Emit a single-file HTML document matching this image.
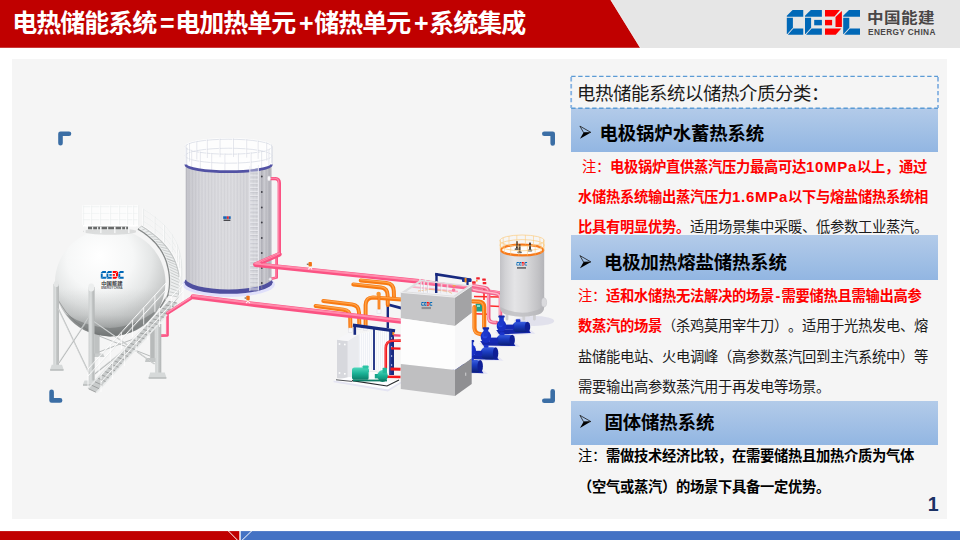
<!DOCTYPE html>
<html lang="zh-CN">
<head>
<meta charset="utf-8">
<title>电热储能系统</title>
<style>
html,body{margin:0;padding:0;}
body{text-spacing-trim:space-all;width:960px;height:540px;position:relative;overflow:hidden;background:#fff;font-family:"Liberation Sans","Noto Sans CJK SC",sans-serif;}
.abs{position:absolute;}
#hdr{left:0;top:0;width:960px;height:47.8px;background:#e6e6e6;}
#title{left:12.2px;top:5.3px;height:36px;line-height:36px;font-size:25px;letter-spacing:-1px;font-weight:bold;color:#fff;white-space:nowrap;}
#title i{display:inline-block;width:19px;text-align:center;font-style:normal;font-weight:bold;font-size:25px;letter-spacing:0;position:relative;left:1.5px;}
#panel{left:12.2px;top:58.9px;width:934.8px;height:460.6px;background:#f5f5f5;}
.bar{left:571px;width:367px;background:linear-gradient(#b3cbe9,#92b6e2);}
.h{font-size:18.4px;letter-spacing:-0.1px;font-weight:bold;color:#000;white-space:nowrap;line-height:24px;height:24px;}
.l{font-size:15px;letter-spacing:.72px;}
.t{font-size:14.3px;letter-spacing:-0.3px;color:#1a1a1a;white-space:nowrap;line-height:20px;height:20px;left:578px;}
.r{color:#ff0000;}
.b{font-weight:bold;}
.k{color:#000;}
</style>
</head>
<body>
<div id="hdr" class="abs"></div>
<svg class="abs" style="left:0;top:0" width="960" height="48" viewBox="0 0 960 48"><polygon points="0,0 610.6,0 640.1,47.8 0,47.8" fill="#c00000"/><line x1="610.9" y1="0" x2="640.4" y2="47.8" stroke="#f4f4f4" stroke-width="0.7"/></svg>
<div id="title" class="abs">电热储能系统<i>=</i>电加热单元<i>+</i>储热单元<i>+</i>系统集成</div>

<div id="panel" class="abs"></div>

<!--ILLUS--><svg class="abs" style="left:0;top:0" width="960" height="540" viewBox="0 0 960 540">
<defs>
<linearGradient id="gTall" x1="0" x2="1" y1="0" y2="0">
<stop offset="0" stop-color="#b8b8c0"/><stop offset="0.04" stop-color="#c8c8ce"/><stop offset="0.2" stop-color="#d6d6db"/><stop offset="0.5" stop-color="#dbdbdf"/><stop offset="0.78" stop-color="#d3d3d8"/><stop offset="0.92" stop-color="#c5c5cb"/><stop offset="1" stop-color="#b0b0b8"/>
</linearGradient>
<pattern id="pStripe" width="3.2" height="10" patternUnits="userSpaceOnUse"><rect x="0" y="0" width="1" height="10" fill="#8c8c98" opacity="0.1"/><rect x="1.6" y="0" width="0.8" height="10" fill="#ffffff" opacity="0.1"/></pattern>
<radialGradient id="gSph" cx="0.42" cy="0.3" r="0.75" fx="0.4" fy="0.25">
<stop offset="0" stop-color="#ffffff"/><stop offset="0.4" stop-color="#f6f7f7"/><stop offset="0.62" stop-color="#e4e6e6"/><stop offset="0.8" stop-color="#cbcdcd"/><stop offset="0.93" stop-color="#adb0b0"/><stop offset="1" stop-color="#989b9b"/>
</radialGradient>
<linearGradient id="gSm" x1="0" x2="1" y1="0" y2="0">
<stop offset="0" stop-color="#c2c2c6"/><stop offset="0.12" stop-color="#d2d2d5"/><stop offset="0.33" stop-color="#e4e4e6"/><stop offset="0.6" stop-color="#d8d8da"/><stop offset="0.85" stop-color="#c3c3c6"/><stop offset="1" stop-color="#b4b4b8"/>
</linearGradient>
<linearGradient id="gSphV" x1="0" x2="0" y1="0" y2="1"><stop offset="0" stop-color="#6a6e6e" stop-opacity="0"/><stop offset="0.55" stop-color="#6a6e6e" stop-opacity="0"/><stop offset="0.8" stop-color="#6a6e6e" stop-opacity="0.16"/><stop offset="0.93" stop-color="#5a5e5e" stop-opacity="0.38"/><stop offset="1" stop-color="#4a4e4e" stop-opacity="0.55"/></linearGradient>
<linearGradient id="gLeg" x1="0" x2="1" y1="0" y2="0"><stop offset="0" stop-color="#cdd0d0"/><stop offset="0.45" stop-color="#dcdfdf"/><stop offset="0.55" stop-color="#c6c9c9"/><stop offset="1" stop-color="#b2b5b5"/></linearGradient>
<linearGradient id="gBlueCyl" x1="0" x2="0" y1="0" y2="1"><stop offset="0" stop-color="#3a5fe0"/><stop offset="0.4" stop-color="#1b3cc0"/><stop offset="1" stop-color="#0b1f7a"/></linearGradient>
<linearGradient id="gTeal" x1="0" x2="0" y1="0" y2="1"><stop offset="0" stop-color="#4fd8bd"/><stop offset="0.5" stop-color="#19b094"/><stop offset="1" stop-color="#0c7d68"/></linearGradient>
</defs>
<g id="tall">
<ellipse cx="228.6" cy="284.4" rx="46.3" ry="12.6" fill="#e0e0fb"/>
<ellipse cx="228.6" cy="282.2" rx="44.1" ry="11.6" fill="#4f4f9f"/>
<path d="M185.7,164.5 L185.7,278.4 A42.9,11.0 0 0 0 271.5,278.4 L271.5,164.5 A42.9,7.2 0 0 1 185.7,164.5 Z" fill="url(#gTall)"/>
<path d="M185.7,164.5 L185.7,278.4 A42.9,11.0 0 0 0 271.5,278.4 L271.5,164.5 A42.9,7.2 0 0 1 185.7,164.5 Z" fill="url(#pStripe)"/>
<ellipse cx="228.6" cy="164.5" rx="42.9" ry="7.2" fill="#fbfbfc"/>
<path d="M185.2,146 A43.4,7.5 0 0 1 272.0,146 L272.0,164.5 A43.4,7.5 0 0 1 185.2,164.5 Z" fill="#ffffff" opacity="0.75"/>
<ellipse cx="228.6" cy="146.0" rx="43.4" ry="7.5" fill="none" stroke="#ffffff" stroke-width="1" opacity="1"/>
<ellipse cx="228.6" cy="146.7" rx="43.4" ry="7.5" fill="none" stroke="#c6cbd8" stroke-width="0.55" opacity="0.95"/>
<ellipse cx="228.6" cy="155.0" rx="43.4" ry="7.5" fill="none" stroke="#ffffff" stroke-width="1" opacity="0.9"/>
<ellipse cx="228.6" cy="155.7" rx="43.4" ry="7.5" fill="none" stroke="#c6cbd8" stroke-width="0.55" opacity="0.95"/>
<line x1="271.8" y1="146.7" x2="271.8" y2="165.2" stroke="#ffffff" stroke-width="0.9"/>
<line x1="272.4" y1="146.7" x2="272.4" y2="165.2" stroke="#c6cbd8" stroke-width="0.45"/>
<line x1="268.3" y1="149.0" x2="268.3" y2="167.5" stroke="#ffffff" stroke-width="0.9"/>
<line x1="268.9" y1="149.0" x2="268.9" y2="167.5" stroke="#c6cbd8" stroke-width="0.45"/>
<line x1="261.0" y1="151.0" x2="261.0" y2="169.5" stroke="#ffffff" stroke-width="0.9"/>
<line x1="261.6" y1="151.0" x2="261.6" y2="169.5" stroke="#c6cbd8" stroke-width="0.45"/>
<line x1="250.5" y1="152.5" x2="250.5" y2="171.0" stroke="#ffffff" stroke-width="0.9"/>
<line x1="251.1" y1="152.5" x2="251.1" y2="171.0" stroke="#c6cbd8" stroke-width="0.45"/>
<line x1="237.8" y1="153.3" x2="237.8" y2="171.8" stroke="#ffffff" stroke-width="0.9"/>
<line x1="238.4" y1="153.3" x2="238.4" y2="171.8" stroke="#c6cbd8" stroke-width="0.45"/>
<line x1="224.3" y1="153.5" x2="224.3" y2="172.0" stroke="#ffffff" stroke-width="0.9"/>
<line x1="224.9" y1="153.5" x2="224.9" y2="172.0" stroke="#c6cbd8" stroke-width="0.45"/>
<line x1="211.1" y1="152.9" x2="211.1" y2="171.4" stroke="#ffffff" stroke-width="0.9"/>
<line x1="211.7" y1="152.9" x2="211.7" y2="171.4" stroke="#c6cbd8" stroke-width="0.45"/>
<line x1="199.7" y1="151.6" x2="199.7" y2="170.1" stroke="#ffffff" stroke-width="0.9"/>
<line x1="200.3" y1="151.6" x2="200.3" y2="170.1" stroke="#c6cbd8" stroke-width="0.45"/>
<line x1="191.1" y1="149.8" x2="191.1" y2="168.3" stroke="#ffffff" stroke-width="0.9"/>
<line x1="191.7" y1="149.8" x2="191.7" y2="168.3" stroke="#c6cbd8" stroke-width="0.45"/>
<line x1="186.2" y1="147.6" x2="186.2" y2="166.1" stroke="#ffffff" stroke-width="0.9"/>
<line x1="186.8" y1="147.6" x2="186.8" y2="166.1" stroke="#c6cbd8" stroke-width="0.45"/>
<line x1="185.4" y1="145.3" x2="185.4" y2="163.8" stroke="#ffffff" stroke-width="0.9"/>
<line x1="186.0" y1="145.3" x2="186.0" y2="163.8" stroke="#c6cbd8" stroke-width="0.45"/>
<line x1="188.9" y1="143.0" x2="188.9" y2="161.5" stroke="#ffffff" stroke-width="0.9"/>
<line x1="189.5" y1="143.0" x2="189.5" y2="161.5" stroke="#c6cbd8" stroke-width="0.45"/>
<line x1="196.2" y1="141.0" x2="196.2" y2="159.5" stroke="#ffffff" stroke-width="0.9"/>
<line x1="196.8" y1="141.0" x2="196.8" y2="159.5" stroke="#c6cbd8" stroke-width="0.45"/>
<line x1="206.7" y1="139.5" x2="206.7" y2="158.0" stroke="#ffffff" stroke-width="0.9"/>
<line x1="207.3" y1="139.5" x2="207.3" y2="158.0" stroke="#c6cbd8" stroke-width="0.45"/>
<line x1="219.4" y1="138.7" x2="219.4" y2="157.2" stroke="#ffffff" stroke-width="0.9"/>
<line x1="220.0" y1="138.7" x2="220.0" y2="157.2" stroke="#c6cbd8" stroke-width="0.45"/>
<line x1="232.9" y1="138.5" x2="232.9" y2="157.0" stroke="#ffffff" stroke-width="0.9"/>
<line x1="233.5" y1="138.5" x2="233.5" y2="157.0" stroke="#c6cbd8" stroke-width="0.45"/>
<line x1="246.1" y1="139.1" x2="246.1" y2="157.6" stroke="#ffffff" stroke-width="0.9"/>
<line x1="246.7" y1="139.1" x2="246.7" y2="157.6" stroke="#c6cbd8" stroke-width="0.45"/>
<line x1="257.5" y1="140.4" x2="257.5" y2="158.9" stroke="#ffffff" stroke-width="0.9"/>
<line x1="258.1" y1="140.4" x2="258.1" y2="158.9" stroke="#c6cbd8" stroke-width="0.45"/>
<line x1="266.1" y1="142.2" x2="266.1" y2="160.7" stroke="#ffffff" stroke-width="0.9"/>
<line x1="266.7" y1="142.2" x2="266.7" y2="160.7" stroke="#c6cbd8" stroke-width="0.45"/>
<line x1="271.0" y1="144.4" x2="271.0" y2="162.9" stroke="#ffffff" stroke-width="0.9"/>
<line x1="271.6" y1="144.4" x2="271.6" y2="162.9" stroke="#c6cbd8" stroke-width="0.45"/>
<path d="M185.7,164.5 A42.9,7.2 0 0 0 271.5,164.5" fill="none" stroke="#5252a4" stroke-width="2.7"/>
<rect x="249.8" y="168.5" width="8.599999999999966" height="122" fill="#dfe0e6" opacity="0.4"/>
<line x1="249.8" y1="166" x2="249.8" y2="291" stroke="#ececf2" stroke-width="0.9"/>
<line x1="258.4" y1="165" x2="258.4" y2="290.5" stroke="#ececf2" stroke-width="0.9"/>
<line x1="249.8" y1="172.0" x2="258.4" y2="172.0" stroke="#efeff4" stroke-width="0.9" opacity="0.7"/>
<line x1="250.3" y1="173.1" x2="257.9" y2="173.1" stroke="#b4b4be" stroke-width="0.4"/>
<line x1="249.8" y1="175.9" x2="258.4" y2="175.9" stroke="#efeff4" stroke-width="0.9" opacity="0.7"/>
<line x1="250.3" y1="177.0" x2="257.9" y2="177.0" stroke="#b4b4be" stroke-width="0.4"/>
<line x1="249.8" y1="179.8" x2="258.4" y2="179.8" stroke="#efeff4" stroke-width="0.9" opacity="0.7"/>
<line x1="250.3" y1="180.9" x2="257.9" y2="180.9" stroke="#b4b4be" stroke-width="0.4"/>
<line x1="249.8" y1="183.7" x2="258.4" y2="183.7" stroke="#efeff4" stroke-width="0.9" opacity="0.7"/>
<line x1="250.3" y1="184.8" x2="257.9" y2="184.8" stroke="#b4b4be" stroke-width="0.4"/>
<line x1="249.8" y1="187.6" x2="258.4" y2="187.6" stroke="#efeff4" stroke-width="0.9" opacity="0.7"/>
<line x1="250.3" y1="188.7" x2="257.9" y2="188.7" stroke="#b4b4be" stroke-width="0.4"/>
<line x1="249.8" y1="191.5" x2="258.4" y2="191.5" stroke="#efeff4" stroke-width="0.9" opacity="0.7"/>
<line x1="250.3" y1="192.6" x2="257.9" y2="192.6" stroke="#b4b4be" stroke-width="0.4"/>
<line x1="249.8" y1="195.4" x2="258.4" y2="195.4" stroke="#efeff4" stroke-width="0.9" opacity="0.7"/>
<line x1="250.3" y1="196.5" x2="257.9" y2="196.5" stroke="#b4b4be" stroke-width="0.4"/>
<line x1="249.8" y1="199.3" x2="258.4" y2="199.3" stroke="#efeff4" stroke-width="0.9" opacity="0.7"/>
<line x1="250.3" y1="200.4" x2="257.9" y2="200.4" stroke="#b4b4be" stroke-width="0.4"/>
<line x1="249.8" y1="203.2" x2="258.4" y2="203.2" stroke="#efeff4" stroke-width="0.9" opacity="0.7"/>
<line x1="250.3" y1="204.3" x2="257.9" y2="204.3" stroke="#b4b4be" stroke-width="0.4"/>
<line x1="249.8" y1="207.1" x2="258.4" y2="207.1" stroke="#efeff4" stroke-width="0.9" opacity="0.7"/>
<line x1="250.3" y1="208.2" x2="257.9" y2="208.2" stroke="#b4b4be" stroke-width="0.4"/>
<line x1="249.8" y1="211.0" x2="258.4" y2="211.0" stroke="#efeff4" stroke-width="0.9" opacity="0.7"/>
<line x1="250.3" y1="212.1" x2="257.9" y2="212.1" stroke="#b4b4be" stroke-width="0.4"/>
<line x1="249.8" y1="214.9" x2="258.4" y2="214.9" stroke="#efeff4" stroke-width="0.9" opacity="0.7"/>
<line x1="250.3" y1="216.0" x2="257.9" y2="216.0" stroke="#b4b4be" stroke-width="0.4"/>
<line x1="249.8" y1="218.8" x2="258.4" y2="218.8" stroke="#efeff4" stroke-width="0.9" opacity="0.7"/>
<line x1="250.3" y1="219.9" x2="257.9" y2="219.9" stroke="#b4b4be" stroke-width="0.4"/>
<line x1="249.8" y1="222.7" x2="258.4" y2="222.7" stroke="#efeff4" stroke-width="0.9" opacity="0.7"/>
<line x1="250.3" y1="223.8" x2="257.9" y2="223.8" stroke="#b4b4be" stroke-width="0.4"/>
<line x1="249.8" y1="226.6" x2="258.4" y2="226.6" stroke="#efeff4" stroke-width="0.9" opacity="0.7"/>
<line x1="250.3" y1="227.7" x2="257.9" y2="227.7" stroke="#b4b4be" stroke-width="0.4"/>
<line x1="249.8" y1="230.5" x2="258.4" y2="230.5" stroke="#efeff4" stroke-width="0.9" opacity="0.7"/>
<line x1="250.3" y1="231.6" x2="257.9" y2="231.6" stroke="#b4b4be" stroke-width="0.4"/>
<line x1="249.8" y1="234.4" x2="258.4" y2="234.4" stroke="#efeff4" stroke-width="0.9" opacity="0.7"/>
<line x1="250.3" y1="235.5" x2="257.9" y2="235.5" stroke="#b4b4be" stroke-width="0.4"/>
<line x1="249.8" y1="238.3" x2="258.4" y2="238.3" stroke="#efeff4" stroke-width="0.9" opacity="0.7"/>
<line x1="250.3" y1="239.4" x2="257.9" y2="239.4" stroke="#b4b4be" stroke-width="0.4"/>
<line x1="249.8" y1="242.2" x2="258.4" y2="242.2" stroke="#efeff4" stroke-width="0.9" opacity="0.7"/>
<line x1="250.3" y1="243.3" x2="257.9" y2="243.3" stroke="#b4b4be" stroke-width="0.4"/>
<line x1="249.8" y1="246.1" x2="258.4" y2="246.1" stroke="#efeff4" stroke-width="0.9" opacity="0.7"/>
<line x1="250.3" y1="247.2" x2="257.9" y2="247.2" stroke="#b4b4be" stroke-width="0.4"/>
<line x1="249.8" y1="250.0" x2="258.4" y2="250.0" stroke="#efeff4" stroke-width="0.9" opacity="0.7"/>
<line x1="250.3" y1="251.1" x2="257.9" y2="251.1" stroke="#b4b4be" stroke-width="0.4"/>
<line x1="249.8" y1="253.9" x2="258.4" y2="253.9" stroke="#efeff4" stroke-width="0.9" opacity="0.7"/>
<line x1="250.3" y1="255.0" x2="257.9" y2="255.0" stroke="#b4b4be" stroke-width="0.4"/>
<line x1="249.8" y1="257.8" x2="258.4" y2="257.8" stroke="#efeff4" stroke-width="0.9" opacity="0.7"/>
<line x1="250.3" y1="258.9" x2="257.9" y2="258.9" stroke="#b4b4be" stroke-width="0.4"/>
<line x1="249.8" y1="261.7" x2="258.4" y2="261.7" stroke="#efeff4" stroke-width="0.9" opacity="0.7"/>
<line x1="250.3" y1="262.8" x2="257.9" y2="262.8" stroke="#b4b4be" stroke-width="0.4"/>
<line x1="249.8" y1="265.6" x2="258.4" y2="265.6" stroke="#efeff4" stroke-width="0.9" opacity="0.7"/>
<line x1="250.3" y1="266.7" x2="257.9" y2="266.7" stroke="#b4b4be" stroke-width="0.4"/>
<line x1="249.8" y1="269.5" x2="258.4" y2="269.5" stroke="#efeff4" stroke-width="0.9" opacity="0.7"/>
<line x1="250.3" y1="270.6" x2="257.9" y2="270.6" stroke="#b4b4be" stroke-width="0.4"/>
<line x1="249.8" y1="273.4" x2="258.4" y2="273.4" stroke="#efeff4" stroke-width="0.9" opacity="0.7"/>
<line x1="250.3" y1="274.5" x2="257.9" y2="274.5" stroke="#b4b4be" stroke-width="0.4"/>
<line x1="249.8" y1="277.3" x2="258.4" y2="277.3" stroke="#efeff4" stroke-width="0.9" opacity="0.7"/>
<line x1="250.3" y1="278.4" x2="257.9" y2="278.4" stroke="#b4b4be" stroke-width="0.4"/>
<line x1="249.8" y1="281.2" x2="258.4" y2="281.2" stroke="#efeff4" stroke-width="0.9" opacity="0.7"/>
<line x1="250.3" y1="282.3" x2="257.9" y2="282.3" stroke="#b4b4be" stroke-width="0.4"/>
<line x1="249.8" y1="285.1" x2="258.4" y2="285.1" stroke="#efeff4" stroke-width="0.9" opacity="0.7"/>
<line x1="250.3" y1="286.2" x2="257.9" y2="286.2" stroke="#b4b4be" stroke-width="0.4"/>
<line x1="249.8" y1="289.0" x2="258.4" y2="289.0" stroke="#efeff4" stroke-width="0.9" opacity="0.7"/>
<line x1="250.3" y1="290.1" x2="257.9" y2="290.1" stroke="#b4b4be" stroke-width="0.4"/>
<line x1="261.8" y1="170" x2="261.8" y2="289" stroke="#8e8e98" stroke-width="0.8" opacity="0.7"/>
<circle cx="261.8" cy="176.5" r="0.9" fill="#3c3c44"/>
<circle cx="261.8" cy="192" r="0.9" fill="#3c3c44"/>
<circle cx="261.8" cy="207.5" r="0.9" fill="#3c3c44"/>
<circle cx="261.8" cy="222.5" r="0.9" fill="#3c3c44"/>
<circle cx="261.8" cy="238" r="0.9" fill="#3c3c44"/>
<circle cx="261.8" cy="253" r="0.9" fill="#3c3c44"/>
<circle cx="261.8" cy="268" r="0.9" fill="#3c3c44"/>
<circle cx="261.8" cy="283" r="0.9" fill="#3c3c44"/>
<g><rect x="223.2" y="216.3" width="3.6" height="2.6" fill="#1766b4"/><rect x="226.9" y="216.3" width="1.9" height="2.6" fill="#e8242c"/><rect x="228.9" y="216.3" width="1.8" height="2.6" fill="#1766b4"/><rect x="223.6" y="219.6" width="6.8" height="1.3" fill="#3a3a40"/></g>
</g>
<g id="sphere">
<rect x="94.6" y="325" width="5" height="29" fill="#bfc2c2"/>
<polygon points="93,353.5 103,353.5 104.5,357 93,357" fill="#c9cccc"/>
<rect x="150.2" y="322" width="4.6" height="36.5" fill="#b7baba"/>
<polygon points="146,358 156,358 156,362 145,362" fill="#c3c6c6"/>
<line x1="99" y1="336" x2="150" y2="356" stroke="#b9bcbc" stroke-width="1"/>
<line x1="152" y1="332" x2="99" y2="352" stroke="#b9bcbc" stroke-width="1"/>
<ellipse cx="110.2" cy="282.6" rx="55.3" ry="53.8" fill="url(#gSph)"/>
<ellipse cx="110.2" cy="282.6" rx="55.3" ry="53.8" fill="url(#gSphV)"/>
<path d="M66,314 Q80,334 110,336.4 Q142,334 157,310 Q134,327 110,328 Q86,327 66,314 Z" fill="#6f7272" opacity="0.55"/>
<path d="M58,300 Q72,326 100,335" fill="none" stroke="#6f7272" stroke-width="0.8" opacity="0.6"/>
<polyline points="160,335.6 167.4,335.2 167.4,313.4" fill="none" stroke="#fb5283" stroke-width="2.9" stroke-linejoin="round"/>
<polyline points="160,335 166.6,334.6 166.6,313.4" fill="none" stroke="#ff86a8" stroke-width="0.9" stroke-linejoin="round"/>
<rect x="53.3" y="284" width="5.6" height="81.8" fill="url(#gLeg)"/>
<polygon points="51.7,364.8 62.0,364.8 63.5,369.3 63.5,370.8 50.2,370.8 50.2,369.3" fill="#d6d9d9"/>
<rect x="50.2" y="369.0" width="13.3" height="1.8" fill="#bfc2c2"/>
<rect x="88.5" y="287" width="6.1" height="94.4" fill="url(#gLeg)"/>
<polygon points="84.5,380.4 95.5,380.4 97,384.29999999999995 97,385.79999999999995 83,385.79999999999995 83,384.29999999999995" fill="#d6d9d9"/>
<rect x="83" y="383.99999999999994" width="14.0" height="1.8" fill="#bfc2c2"/>
<rect x="155.2" y="324" width="6.1" height="49.4" fill="url(#gLeg)"/>
<polygon points="150.2,372.4 164.8,372.4 166.3,377.29999999999995 166.3,378.79999999999995 148.7,378.79999999999995 148.7,377.29999999999995" fill="#d6d9d9"/>
<rect x="148.7" y="376.99999999999994" width="17.6" height="1.8" fill="#bfc2c2"/>
<ellipse cx="56.3" cy="284" rx="2.6" ry="3" fill="#e4e6e6"/>
<ellipse cx="91.3" cy="287.5" rx="3.1" ry="4" fill="#eceeee"/>
<line x1="58.5" y1="309" x2="89.4" y2="374" stroke="#b6b9b9" stroke-width="1.2"/>
<line x1="58.0" y1="308.6" x2="88.9" y2="373.6" stroke="#e6e8e8" stroke-width="0.5"/>
<line x1="88.5" y1="318.5" x2="58.9" y2="363" stroke="#b6b9b9" stroke-width="1.2"/>
<line x1="88.0" y1="318.1" x2="58.4" y2="362.6" stroke="#e6e8e8" stroke-width="0.5"/>
<line x1="94.6" y1="322" x2="154.5" y2="364" stroke="#b6b9b9" stroke-width="1.2"/>
<line x1="94.1" y1="321.6" x2="154.0" y2="363.6" stroke="#e6e8e8" stroke-width="0.5"/>
<line x1="155" y1="326" x2="94.6" y2="374" stroke="#b6b9b9" stroke-width="1.2"/>
<line x1="154.5" y1="325.6" x2="94.1" y2="373.6" stroke="#e6e8e8" stroke-width="0.5"/>
<ellipse cx="110" cy="231.5" rx="27" ry="3.2" fill="#c9cccc" opacity="0.6"/>
<rect x="83" y="224.6" width="55" height="2" fill="#ffffff"/>
<rect x="88" y="226.6" width="40" height="2.6" fill="#3b3d3d" opacity="0.75"/>
<rect x="84" y="226.6" width="1.6" height="6.5" fill="#f3f4f4"/>
<rect x="100" y="226.6" width="1.6" height="6.5" fill="#f3f4f4"/>
<rect x="114" y="226.6" width="1.6" height="6.5" fill="#f3f4f4"/>
<rect x="128" y="226.6" width="1.6" height="6.5" fill="#f3f4f4"/>
<rect x="136" y="226.6" width="1.6" height="6.5" fill="#f3f4f4"/>
<rect x="92" y="226.6" width="1.2" height="3.4" fill="#e9eaea"/>
<rect x="97" y="226.6" width="1.2" height="3.4" fill="#e9eaea"/>
<rect x="107" y="226.6" width="1.2" height="3.4" fill="#e9eaea"/>
<rect x="121" y="226.6" width="1.2" height="3.4" fill="#e9eaea"/>
<rect x="125" y="226.6" width="1.2" height="3.4" fill="#e9eaea"/>
<rect x="82.5" y="205.5" width="55.5" height="19.5" fill="#ffffff" opacity="0.7"/>
<line x1="82.5" y1="206" x2="138" y2="206" stroke="#ffffff" stroke-width="1"/>
<line x1="82.5" y1="206.7" x2="138" y2="206.7" stroke="#dfe2e4" stroke-width="0.4"/>
<line x1="82.5" y1="212.5" x2="138" y2="212.5" stroke="#ffffff" stroke-width="1"/>
<line x1="82.5" y1="213.2" x2="138" y2="213.2" stroke="#dfe2e4" stroke-width="0.4"/>
<line x1="82.5" y1="219" x2="138" y2="219" stroke="#ffffff" stroke-width="1"/>
<line x1="82.5" y1="219.7" x2="138" y2="219.7" stroke="#dfe2e4" stroke-width="0.4"/>
<line x1="83" y1="205.5" x2="83" y2="225" stroke="#ffffff" stroke-width="1"/>
<line x1="83.6" y1="205.5" x2="83.6" y2="225" stroke="#dfe2e4" stroke-width="0.4"/>
<line x1="91" y1="205.5" x2="91" y2="225" stroke="#ffffff" stroke-width="1"/>
<line x1="91.6" y1="205.5" x2="91.6" y2="225" stroke="#dfe2e4" stroke-width="0.4"/>
<line x1="100" y1="205.5" x2="100" y2="225" stroke="#ffffff" stroke-width="1"/>
<line x1="100.6" y1="205.5" x2="100.6" y2="225" stroke="#dfe2e4" stroke-width="0.4"/>
<line x1="110" y1="205.5" x2="110" y2="225" stroke="#ffffff" stroke-width="1"/>
<line x1="110.6" y1="205.5" x2="110.6" y2="225" stroke="#dfe2e4" stroke-width="0.4"/>
<line x1="119" y1="205.5" x2="119" y2="225" stroke="#ffffff" stroke-width="1"/>
<line x1="119.6" y1="205.5" x2="119.6" y2="225" stroke="#dfe2e4" stroke-width="0.4"/>
<line x1="127" y1="205.5" x2="127" y2="225" stroke="#ffffff" stroke-width="1"/>
<line x1="127.6" y1="205.5" x2="127.6" y2="225" stroke="#dfe2e4" stroke-width="0.4"/>
<line x1="133" y1="205.5" x2="133" y2="225" stroke="#ffffff" stroke-width="1"/>
<line x1="133.6" y1="205.5" x2="133.6" y2="225" stroke="#dfe2e4" stroke-width="0.4"/>
<line x1="138" y1="205.5" x2="138" y2="225" stroke="#ffffff" stroke-width="1"/>
<line x1="138.6" y1="205.5" x2="138.6" y2="225" stroke="#dfe2e4" stroke-width="0.4"/>
<polygon points="138.0,229.0 141.0,230.8 143.8,232.7 146.6,234.8 149.2,237.0 151.7,239.2 154.1,241.6 156.4,244.1 158.4,246.7 160.4,249.4 162.1,252.2 163.6,255.0 165.0,258.0 165.0,258.0 166.0,260.6 166.9,263.2 167.6,266.0 168.3,268.9 168.9,271.9 169.3,275.0 169.6,278.2 169.7,281.4 169.6,284.7 169.3,288.1 168.8,291.5 168.0,295.0 178.0,297.0 178.8,294.2 179.3,291.4 179.7,288.6 179.9,285.7 179.9,282.8 179.8,279.9 179.4,276.9 178.9,274.0 178.3,271.0 177.5,268.0 176.6,265.0 175.5,262.0 175.5,262.0 174.0,258.5 172.2,255.2 170.2,251.9 167.9,248.7 165.4,245.5 162.7,242.5 159.7,239.5 156.5,236.7 153.1,233.9 149.5,231.2 145.7,228.5 141.7,226.0" fill="#eceeee"/>
<line x1="138.0" y1="229.0" x2="141.7" y2="226.0" stroke="#b4b7b7" stroke-width="0.6"/>
<line x1="141.0" y1="230.8" x2="145.7" y2="228.5" stroke="#b4b7b7" stroke-width="0.6"/>
<line x1="143.8" y1="232.7" x2="149.5" y2="231.2" stroke="#b4b7b7" stroke-width="0.6"/>
<line x1="146.6" y1="234.8" x2="153.1" y2="233.9" stroke="#b4b7b7" stroke-width="0.6"/>
<line x1="149.2" y1="237.0" x2="156.5" y2="236.7" stroke="#b4b7b7" stroke-width="0.6"/>
<line x1="151.7" y1="239.2" x2="159.7" y2="239.5" stroke="#b4b7b7" stroke-width="0.6"/>
<line x1="154.1" y1="241.6" x2="162.7" y2="242.5" stroke="#b4b7b7" stroke-width="0.6"/>
<line x1="156.4" y1="244.1" x2="165.4" y2="245.5" stroke="#b4b7b7" stroke-width="0.6"/>
<line x1="158.4" y1="246.7" x2="167.9" y2="248.7" stroke="#b4b7b7" stroke-width="0.6"/>
<line x1="160.4" y1="249.4" x2="170.2" y2="251.9" stroke="#b4b7b7" stroke-width="0.6"/>
<line x1="162.1" y1="252.2" x2="172.2" y2="255.2" stroke="#b4b7b7" stroke-width="0.6"/>
<line x1="163.6" y1="255.0" x2="174.0" y2="258.5" stroke="#b4b7b7" stroke-width="0.6"/>
<line x1="165.0" y1="258.0" x2="175.5" y2="262.0" stroke="#b4b7b7" stroke-width="0.6"/>
<line x1="165.0" y1="258.0" x2="175.5" y2="262.0" stroke="#b4b7b7" stroke-width="0.6"/>
<line x1="166.0" y1="260.6" x2="176.6" y2="265.0" stroke="#b4b7b7" stroke-width="0.6"/>
<line x1="166.9" y1="263.2" x2="177.5" y2="268.0" stroke="#b4b7b7" stroke-width="0.6"/>
<line x1="167.6" y1="266.0" x2="178.3" y2="271.0" stroke="#b4b7b7" stroke-width="0.6"/>
<line x1="168.3" y1="268.9" x2="178.9" y2="274.0" stroke="#b4b7b7" stroke-width="0.6"/>
<line x1="168.9" y1="271.9" x2="179.4" y2="276.9" stroke="#b4b7b7" stroke-width="0.6"/>
<line x1="169.3" y1="275.0" x2="179.8" y2="279.9" stroke="#b4b7b7" stroke-width="0.6"/>
<line x1="169.6" y1="278.2" x2="179.9" y2="282.8" stroke="#b4b7b7" stroke-width="0.6"/>
<line x1="169.7" y1="281.4" x2="179.9" y2="285.7" stroke="#b4b7b7" stroke-width="0.6"/>
<line x1="169.6" y1="284.7" x2="179.7" y2="288.6" stroke="#b4b7b7" stroke-width="0.6"/>
<line x1="169.3" y1="288.1" x2="179.3" y2="291.4" stroke="#b4b7b7" stroke-width="0.6"/>
<line x1="168.8" y1="291.5" x2="178.8" y2="294.2" stroke="#b4b7b7" stroke-width="0.6"/>
<line x1="168.0" y1="295.0" x2="178.0" y2="297.0" stroke="#b4b7b7" stroke-width="0.6"/>
<polyline points="138.0,229.0 141.0,230.8 143.8,232.7 146.6,234.8 149.2,237.0 151.7,239.2 154.1,241.6 156.4,244.1 158.4,246.7 160.4,249.4 162.1,252.2 163.6,255.0 165.0,258.0 165.0,258.0 166.0,260.6 166.9,263.2 167.6,266.0 168.3,268.9 168.9,271.9 169.3,275.0 169.6,278.2 169.7,281.4 169.6,284.7 169.3,288.1 168.8,291.5 168.0,295.0 160,308" fill="none" stroke="#7b7e7e" stroke-width="1.5" opacity="0.9"/>
<polyline points="138.9,228.5 141.9,230.3 144.7,232.2 147.5,234.3 150.1,236.5 152.6,238.7 155.0,241.1 157.3,243.6 159.3,246.2 161.3,248.9 163.0,251.7 164.5,254.5 165.9,257.5 165.9,257.5 166.9,260.1 167.8,262.7 168.5,265.5 169.2,268.4 169.8,271.4 170.2,274.5 170.5,277.7 170.6,280.9 170.5,284.2 170.2,287.6 169.7,291.0 168.9,294.5" fill="none" stroke="#f4f5f5" stroke-width="0.7"/>
<polyline points="141.7,226.0 145.7,228.5 149.5,231.2 153.1,233.9 156.5,236.7 159.7,239.5 162.7,242.5 165.4,245.5 167.9,248.7 170.2,251.9 172.2,255.2 174.0,258.5 175.5,262.0 175.5,262.0 176.6,265.0 177.5,268.0 178.3,271.0 178.9,274.0 179.4,276.9 179.8,279.9 179.9,282.8 179.9,285.7 179.7,288.6 179.3,291.4 178.8,294.2 178.0,297.0 171,306" fill="none" stroke="#c4c7c7" stroke-width="1.4"/>
<polyline points="142.5,225.6 146.5,228.1 150.3,230.8 153.9,233.5 157.3,236.3 160.5,239.1 163.5,242.1 166.2,245.1 168.7,248.3 171.0,251.5 173.0,254.8 174.8,258.1 176.3,261.6 176.3,261.6 177.4,264.6 178.3,267.6 179.1,270.6 179.7,273.6 180.2,276.5 180.6,279.5 180.7,282.4 180.7,285.3 180.5,288.2 180.1,291.0 179.6,293.8 178.8,296.6" fill="none" stroke="#ffffff" stroke-width="0.8"/>
<polyline points="142.9,208.5 146.9,211.0 150.7,213.7 154.3,216.4 157.7,219.2 160.9,222.0 163.8,225.0 166.6,228.0 169.1,231.2 171.4,234.4 173.4,237.7 175.2,241.0 176.7,244.5 176.7,244.5 177.8,247.5 178.7,250.5 179.5,253.5 180.1,256.5 180.6,259.4 180.9,262.4 181.1,265.3 181.1,268.2 180.9,271.1 180.5,273.9 180.0,276.7 179.2,279.5" fill="none" stroke="#ffffff" stroke-width="0.9"/>
<polyline points="143.5,209.1 147.5,211.6 151.3,214.3 154.9,217.0 158.3,219.8 161.5,222.6 164.5,225.6 167.2,228.6 169.7,231.8 172.0,235.0 174.0,238.3 175.8,241.6 177.3,245.1 177.3,245.1 178.4,248.1 179.3,251.1 180.1,254.1 180.7,257.1 181.2,260.0 181.6,263.0 181.7,265.9 181.7,268.8 181.5,271.7 181.1,274.5 180.6,277.3 179.8,280.1" fill="none" stroke="#d5d8da" stroke-width="0.4"/>
<polyline points="142.9,214.5 146.9,217.0 150.7,219.7 154.3,222.4 157.7,225.2 160.9,228.0 163.8,231.0 166.6,234.0 169.1,237.2 171.4,240.4 173.4,243.7 175.2,247.0 176.7,250.5 176.7,250.5 177.8,253.5 178.7,256.5 179.5,259.5 180.1,262.5 180.6,265.4 180.9,268.4 181.1,271.3 181.1,274.2 180.9,277.1 180.5,279.9 180.0,282.7 179.2,285.5" fill="none" stroke="#ffffff" stroke-width="0.9"/>
<polyline points="143.5,215.1 147.5,217.6 151.3,220.3 154.9,223.0 158.3,225.8 161.5,228.6 164.5,231.6 167.2,234.6 169.7,237.8 172.0,241.0 174.0,244.3 175.8,247.6 177.3,251.1 177.3,251.1 178.4,254.1 179.3,257.1 180.1,260.1 180.7,263.1 181.2,266.0 181.6,269.0 181.7,271.9 181.7,274.8 181.5,277.7 181.1,280.5 180.6,283.3 179.8,286.1" fill="none" stroke="#d5d8da" stroke-width="0.4"/>
<polyline points="142.9,220.5 146.9,223.0 150.7,225.7 154.3,228.4 157.7,231.2 160.9,234.0 163.8,237.0 166.6,240.0 169.1,243.2 171.4,246.4 173.4,249.7 175.2,253.0 176.7,256.5 176.7,256.5 177.8,259.5 178.7,262.5 179.5,265.5 180.1,268.5 180.6,271.4 180.9,274.4 181.1,277.3 181.1,280.2 180.9,283.1 180.5,285.9 180.0,288.7 179.2,291.5" fill="none" stroke="#ffffff" stroke-width="0.9"/>
<polyline points="143.5,221.1 147.5,223.6 151.3,226.3 154.9,229.0 158.3,231.8 161.5,234.6 164.5,237.6 167.2,240.6 169.7,243.8 172.0,247.0 174.0,250.3 175.8,253.6 177.3,257.1 177.3,257.1 178.4,260.1 179.3,263.1 180.1,266.1 180.7,269.1 181.2,272.0 181.6,275.0 181.7,277.9 181.7,280.8 181.5,283.7 181.1,286.5 180.6,289.3 179.8,292.1" fill="none" stroke="#d5d8da" stroke-width="0.4"/>
<line x1="142.9" y1="226.0" x2="142.9" y2="208.5" stroke="#ffffff" stroke-width="0.9"/>
<line x1="143.5" y1="226.0" x2="143.5" y2="208.5" stroke="#d5d8da" stroke-width="0.4"/>
<line x1="154.3" y1="233.9" x2="154.3" y2="216.4" stroke="#ffffff" stroke-width="0.9"/>
<line x1="154.9" y1="233.9" x2="154.9" y2="216.4" stroke="#d5d8da" stroke-width="0.4"/>
<line x1="163.8" y1="242.5" x2="163.8" y2="225.0" stroke="#ffffff" stroke-width="0.9"/>
<line x1="164.5" y1="242.5" x2="164.5" y2="225.0" stroke="#d5d8da" stroke-width="0.4"/>
<line x1="171.4" y1="251.9" x2="171.4" y2="234.4" stroke="#ffffff" stroke-width="0.9"/>
<line x1="172.0" y1="251.9" x2="172.0" y2="234.4" stroke="#d5d8da" stroke-width="0.4"/>
<line x1="176.7" y1="262.0" x2="176.7" y2="244.5" stroke="#ffffff" stroke-width="0.9"/>
<line x1="177.3" y1="262.0" x2="177.3" y2="244.5" stroke="#d5d8da" stroke-width="0.4"/>
<line x1="178.7" y1="268.0" x2="178.7" y2="250.5" stroke="#ffffff" stroke-width="0.9"/>
<line x1="179.3" y1="268.0" x2="179.3" y2="250.5" stroke="#d5d8da" stroke-width="0.4"/>
<line x1="180.6" y1="276.9" x2="180.6" y2="259.4" stroke="#ffffff" stroke-width="0.9"/>
<line x1="181.2" y1="276.9" x2="181.2" y2="259.4" stroke="#d5d8da" stroke-width="0.4"/>
<line x1="181.1" y1="285.7" x2="181.1" y2="268.2" stroke="#ffffff" stroke-width="0.9"/>
<line x1="181.7" y1="285.7" x2="181.7" y2="268.2" stroke="#d5d8da" stroke-width="0.4"/>
<line x1="180.0" y1="294.2" x2="180.0" y2="276.7" stroke="#ffffff" stroke-width="0.9"/>
<line x1="180.6" y1="294.2" x2="180.6" y2="276.7" stroke="#d5d8da" stroke-width="0.4"/>
<polygon points="168,301 177.5,303 96.5,392.5 88,388.5" fill="#c9cccc"/>
<line x1="168" y1="301" x2="88" y2="388.5" stroke="#e4e6e6" stroke-width="1.5"/>
<line x1="177.5" y1="303" x2="96.5" y2="392.5" stroke="#e9ebeb" stroke-width="1.7"/>
<line x1="168.6" y1="301.4" x2="176.8" y2="303.0" stroke="#989b9b" stroke-width="0.9"/>
<line x1="165.4" y1="304.9" x2="173.6" y2="306.6" stroke="#989b9b" stroke-width="0.9"/>
<line x1="162.2" y1="308.4" x2="170.3" y2="310.1" stroke="#989b9b" stroke-width="0.9"/>
<line x1="159.0" y1="311.9" x2="167.1" y2="313.7" stroke="#989b9b" stroke-width="0.9"/>
<line x1="155.8" y1="315.4" x2="163.8" y2="317.3" stroke="#989b9b" stroke-width="0.9"/>
<line x1="152.6" y1="318.9" x2="160.6" y2="320.8" stroke="#989b9b" stroke-width="0.9"/>
<line x1="149.4" y1="322.4" x2="157.4" y2="324.4" stroke="#989b9b" stroke-width="0.9"/>
<line x1="146.2" y1="325.9" x2="154.1" y2="328.0" stroke="#989b9b" stroke-width="0.9"/>
<line x1="143.0" y1="329.4" x2="150.9" y2="331.5" stroke="#989b9b" stroke-width="0.9"/>
<line x1="139.8" y1="332.9" x2="147.6" y2="335.1" stroke="#989b9b" stroke-width="0.9"/>
<line x1="136.6" y1="336.4" x2="144.4" y2="338.7" stroke="#989b9b" stroke-width="0.9"/>
<line x1="133.4" y1="339.9" x2="141.2" y2="342.2" stroke="#989b9b" stroke-width="0.9"/>
<line x1="130.2" y1="343.4" x2="137.9" y2="345.8" stroke="#989b9b" stroke-width="0.9"/>
<line x1="127.0" y1="346.8" x2="134.7" y2="349.4" stroke="#989b9b" stroke-width="0.9"/>
<line x1="123.8" y1="350.3" x2="131.4" y2="353.0" stroke="#989b9b" stroke-width="0.9"/>
<line x1="120.6" y1="353.8" x2="128.2" y2="356.5" stroke="#989b9b" stroke-width="0.9"/>
<line x1="117.4" y1="357.3" x2="125.0" y2="360.1" stroke="#989b9b" stroke-width="0.9"/>
<line x1="114.2" y1="360.8" x2="121.7" y2="363.7" stroke="#989b9b" stroke-width="0.9"/>
<line x1="111.0" y1="364.3" x2="118.5" y2="367.2" stroke="#989b9b" stroke-width="0.9"/>
<line x1="107.8" y1="367.8" x2="115.2" y2="370.8" stroke="#989b9b" stroke-width="0.9"/>
<line x1="104.6" y1="371.3" x2="112.0" y2="374.4" stroke="#989b9b" stroke-width="0.9"/>
<line x1="101.4" y1="374.8" x2="108.8" y2="377.9" stroke="#989b9b" stroke-width="0.9"/>
<line x1="98.2" y1="378.3" x2="105.5" y2="381.5" stroke="#989b9b" stroke-width="0.9"/>
<line x1="95.0" y1="381.8" x2="102.3" y2="385.1" stroke="#989b9b" stroke-width="0.9"/>
<line x1="91.8" y1="385.3" x2="99.0" y2="388.6" stroke="#989b9b" stroke-width="0.9"/>
<line x1="88.6" y1="388.8" x2="95.8" y2="392.2" stroke="#989b9b" stroke-width="0.9"/>
<line x1="166" y1="290" x2="88" y2="376" stroke="#ffffff" stroke-width="0.9"/>
<line x1="166.5" y1="290.6" x2="88.5" y2="376.6" stroke="#d9dcdc" stroke-width="0.4"/>
<line x1="183" y1="291" x2="101" y2="382" stroke="#ffffff" stroke-width="0.9"/>
<line x1="183.5" y1="291.6" x2="101.5" y2="382.6" stroke="#d9dcdc" stroke-width="0.4"/>
<line x1="166" y1="283" x2="88" y2="369" stroke="#ffffff" stroke-width="0.9"/>
<line x1="166.5" y1="283.6" x2="88.5" y2="369.6" stroke="#d9dcdc" stroke-width="0.4"/>
<line x1="183" y1="284" x2="101" y2="375" stroke="#ffffff" stroke-width="0.9"/>
<line x1="183.5" y1="284.6" x2="101.5" y2="375.6" stroke="#d9dcdc" stroke-width="0.4"/>
<line x1="166.0" y1="300.0" x2="166.0" y2="283.0" stroke="#ffffff" stroke-width="0.8"/>
<line x1="183.0" y1="301.0" x2="183.0" y2="284.0" stroke="#ffffff" stroke-width="0.8"/>
<line x1="154.9" y1="312.3" x2="154.9" y2="295.3" stroke="#ffffff" stroke-width="0.8"/>
<line x1="171.3" y1="314.0" x2="171.3" y2="297.0" stroke="#ffffff" stroke-width="0.8"/>
<line x1="143.7" y1="324.6" x2="143.7" y2="307.6" stroke="#ffffff" stroke-width="0.8"/>
<line x1="159.6" y1="327.0" x2="159.6" y2="310.0" stroke="#ffffff" stroke-width="0.8"/>
<line x1="132.6" y1="336.9" x2="132.6" y2="319.9" stroke="#ffffff" stroke-width="0.8"/>
<line x1="147.9" y1="340.0" x2="147.9" y2="323.0" stroke="#ffffff" stroke-width="0.8"/>
<line x1="121.4" y1="349.1" x2="121.4" y2="332.1" stroke="#ffffff" stroke-width="0.8"/>
<line x1="136.1" y1="353.0" x2="136.1" y2="336.0" stroke="#ffffff" stroke-width="0.8"/>
<line x1="110.3" y1="361.4" x2="110.3" y2="344.4" stroke="#ffffff" stroke-width="0.8"/>
<line x1="124.4" y1="366.0" x2="124.4" y2="349.0" stroke="#ffffff" stroke-width="0.8"/>
<line x1="99.1" y1="373.7" x2="99.1" y2="356.7" stroke="#ffffff" stroke-width="0.8"/>
<line x1="112.7" y1="379.0" x2="112.7" y2="362.0" stroke="#ffffff" stroke-width="0.8"/>
<line x1="88.0" y1="386.0" x2="88.0" y2="369.0" stroke="#ffffff" stroke-width="0.8"/>
<line x1="101.0" y1="392.0" x2="101.0" y2="375.0" stroke="#ffffff" stroke-width="0.8"/>
<g transform="translate(100.8,271) scale(0.3117) translate(-786.8,-10)"><use href="#logo"/></g>
<text x="101.2" y="285.3" font-family="'Liberation Sans','Noto Sans CJK SC',sans-serif" font-size="5" font-weight="bold" fill="#3a3a3c" textLength="21.4" lengthAdjust="spacingAndGlyphs">中国能建</text>
<text x="101.2" y="288.8" font-family="'Liberation Sans',sans-serif" font-size="2.7" font-weight="bold" fill="#55565a" textLength="21.4" lengthAdjust="spacingAndGlyphs">ENERGY CHINA</text>
</g>
<g id="equip">
<path d="M269.5,178.6 L275.5,178.6 Q279.3,178.8 279.3,183 L279.3,254.3" fill="none" stroke="#fb5283" stroke-width="3.4" stroke-linejoin="round" stroke-linecap="round"/>
<path d="M269.5,178.6 L275.5,178.6 Q279.3,178.8 279.3,183 L279.3,254.3" transform="translate(-0.6,-0.4)" fill="none" stroke="#ff9ab6" stroke-width="1.1" stroke-linejoin="round" stroke-linecap="round" opacity="0.8"/>
<polyline points="270.5,279.0 276.6,277.5 276.6,256.0" fill="none" stroke="#fb5283" stroke-width="2.8" stroke-linejoin="round" stroke-linecap="round"/>
<polyline points="270.0,279.0 276.1,277.5 276.1,256.0" fill="none" stroke="#ffa0b8" stroke-width="0.8" stroke-linejoin="round" stroke-linecap="round" opacity="0.8"/>
<polyline points="279.3,254.3 255.5,264.6 419.0,281.4 500.0,293.5" fill="none" stroke="#fb5283" stroke-width="4.7" stroke-linejoin="round" stroke-linecap="round"/>
<polyline points="279.0,253.3 255.2,263.6 418.7,280.4 499.7,292.5" fill="none" stroke="#ff8cac" stroke-width="1.97" stroke-linejoin="round" stroke-linecap="round"/>
<polyline points="276.6,256.0 262.0,262.3" fill="none" stroke="#fb5283" stroke-width="2.6" stroke-linejoin="round" stroke-linecap="round"/>
<polyline points="276.6,255.3 262.0,261.6" fill="none" stroke="#ffa0b8" stroke-width="0.8" stroke-linejoin="round" stroke-linecap="round" opacity="0.8"/>
<ellipse cx="269" cy="178.4" rx="1.6" ry="2.6" fill="#fafafc" stroke="#c4c4cc" stroke-width="0.4"/>
<circle cx="270.2" cy="279.2" r="1.6" fill="#eeeef2" stroke="#b9b9c2" stroke-width="0.5"/>
<line x1="436.5" y1="274.3" x2="469.5" y2="279.6" stroke="#17297f" stroke-width="2.6" stroke-linecap="square"/>
<line x1="436.5" y1="274.3" x2="436.5" y2="292" stroke="#17297f" stroke-width="2.4" stroke-linecap="square"/>
<line x1="467.5" y1="279.5" x2="467.5" y2="287" stroke="#17297f" stroke-width="2.2" stroke-linecap="square"/>
<line x1="420.0" y1="279.0" x2="420.0" y2="290.0" stroke="#ffffff" stroke-width="1.2"/>
<line x1="420.8" y1="279.0" x2="420.8" y2="290.0" stroke="#c8ccd6" stroke-width="0.4"/>
<line x1="425.5" y1="279.8" x2="425.5" y2="290.9" stroke="#ffffff" stroke-width="1.2"/>
<line x1="426.3" y1="279.8" x2="426.3" y2="290.9" stroke="#c8ccd6" stroke-width="0.4"/>
<line x1="431.0" y1="280.6" x2="431.0" y2="291.8" stroke="#ffffff" stroke-width="1.2"/>
<line x1="431.8" y1="280.6" x2="431.8" y2="291.8" stroke="#c8ccd6" stroke-width="0.4"/>
<line x1="436.5" y1="281.4" x2="436.5" y2="292.7" stroke="#ffffff" stroke-width="1.2"/>
<line x1="437.3" y1="281.4" x2="437.3" y2="292.7" stroke="#c8ccd6" stroke-width="0.4"/>
<line x1="442.0" y1="282.2" x2="442.0" y2="293.6" stroke="#ffffff" stroke-width="1.2"/>
<line x1="442.8" y1="282.2" x2="442.8" y2="293.6" stroke="#c8ccd6" stroke-width="0.4"/>
<line x1="447.5" y1="283.0" x2="447.5" y2="294.5" stroke="#ffffff" stroke-width="1.2"/>
<line x1="448.3" y1="283.0" x2="448.3" y2="294.5" stroke="#c8ccd6" stroke-width="0.4"/>
<line x1="453.0" y1="283.8" x2="453.0" y2="295.4" stroke="#ffffff" stroke-width="1.2"/>
<line x1="453.8" y1="283.8" x2="453.8" y2="295.4" stroke="#c8ccd6" stroke-width="0.4"/>
<line x1="418" y1="283" x2="470" y2="289.5" stroke="#f6a7bb" stroke-width="1.6"/>
<line x1="387.9" y1="304.6" x2="401" y2="308" stroke="#17297f" stroke-width="2.7" stroke-linecap="square"/>
<line x1="387.8" y1="304.6" x2="387.8" y2="327" stroke="#17297f" stroke-width="2.4" stroke-linecap="square"/>
<path d="M360.7,280.4 L386.5,283 Q393.6,283.8 393.8,291 L394,297" fill="none" stroke="#f87a12" stroke-width="4.0" stroke-linejoin="round" stroke-linecap="round"/>
<path d="M360.7,280.4 L386.5,283 Q393.6,283.8 393.8,291 L394,297" transform="translate(-0.0,-0.7)" fill="none" stroke="#ffab55" stroke-width="1.3" stroke-linejoin="round" stroke-linecap="round" opacity="0.8"/>
<path d="M353.3,284.4 L381,287.6 Q387.4,288.4 387.6,295 L387.8,305" fill="none" stroke="#f87a12" stroke-width="4.0" stroke-linejoin="round" stroke-linecap="round"/>
<path d="M353.3,284.4 L381,287.6 Q387.4,288.4 387.6,295 L387.8,305" transform="translate(-0.0,-0.7)" fill="none" stroke="#ffab55" stroke-width="1.3" stroke-linejoin="round" stroke-linecap="round" opacity="0.8"/>
<path d="M365.6,326 L365.6,305 Q365.8,297.6 373,297.4 L401,299.6" fill="none" stroke="#f87a12" stroke-width="4.0" stroke-linejoin="round" stroke-linecap="round"/>
<path d="M365.6,326 L365.6,305 Q365.8,297.6 373,297.4 L401,299.6" transform="translate(-0.0,-0.7)" fill="none" stroke="#ffab55" stroke-width="1.3" stroke-linejoin="round" stroke-linecap="round" opacity="0.8"/>
<path d="M379,309 L379,295" fill="none" stroke="#f87a12" stroke-width="2.8" stroke-linejoin="round" stroke-linecap="round"/>
<path d="M379,309 L379,295" transform="translate(-0.0,-0.7)" fill="none" stroke="#ffab55" stroke-width="0.8" stroke-linejoin="round" stroke-linecap="round" opacity="0.8"/>
<circle cx="378.6" cy="294" r="2.2" fill="#f9942e"/>
<path d="M323.3,301.1 L352,304.6 Q358.8,305.6 359,312.5 L359.3,324.4" fill="none" stroke="#f87a12" stroke-width="4.0" stroke-linejoin="round" stroke-linecap="round"/>
<path d="M323.3,301.1 L352,304.6 Q358.8,305.6 359,312.5 L359.3,324.4" transform="translate(-0.0,-0.7)" fill="none" stroke="#ffab55" stroke-width="1.3" stroke-linejoin="round" stroke-linecap="round" opacity="0.8"/>
<path d="M315.6,306 L343.5,309.7 Q350,310.6 350.2,317 L350.4,328" fill="none" stroke="#f87a12" stroke-width="4.0" stroke-linejoin="round" stroke-linecap="round"/>
<path d="M315.6,306 L343.5,309.7 Q350,310.6 350.2,317 L350.4,328" transform="translate(-0.0,-0.7)" fill="none" stroke="#ffab55" stroke-width="1.3" stroke-linejoin="round" stroke-linecap="round" opacity="0.8"/>
<rect x="348.4" y="328" width="4" height="4.2" fill="#f7f7f9" stroke="#d6d6de" stroke-width="0.4"/>
<rect x="357.3" y="325" width="4" height="4.2" fill="#f7f7f9" stroke="#d6d6de" stroke-width="0.4"/>
<rect x="363.6" y="326.5" width="4" height="4.2" fill="#f7f7f9" stroke="#d6d6de" stroke-width="0.4"/>
<rect x="377" y="309.5" width="4" height="4.2" fill="#f7f7f9" stroke="#d6d6de" stroke-width="0.4"/>
<polyline points="167.6,313.2 193.0,296.9" fill="none" stroke="#fb5283" stroke-width="3.3" stroke-linejoin="round" stroke-linecap="round"/>
<polyline points="167.3,312.5 192.7,296.2" fill="none" stroke="#ff8cac" stroke-width="1.39" stroke-linejoin="round" stroke-linecap="round"/>
<polyline points="193.0,296.7 247.2,303.6 401.0,321.3" fill="none" stroke="#fb5283" stroke-width="5.0" stroke-linejoin="round" stroke-linecap="round"/>
<polyline points="192.7,295.6 246.9,302.5 400.7,320.2" fill="none" stroke="#ff8cac" stroke-width="2.10" stroke-linejoin="round" stroke-linecap="round"/>
<rect x="246.3" y="295.79999999999995" width="3.4" height="4.6" rx="0.8" fill="#f07214"/>
<polygon points="245.6,303.0 247.8,300.2 250.4,303.0 249.2,303.2 248,301.59999999999997 246.8,303.2" fill="#ffffff"/>
<rect x="244.6" y="297.4" width="1.8" height="1.3" fill="#7a6a5a"/>
<rect x="308.5" y="262.0" width="3.4" height="4.6" rx="0.8" fill="#f07214"/>
<polygon points="307.8,269.20000000000005 310.0,266.40000000000003 312.59999999999997,269.20000000000005 311.4,269.40000000000003 310.2,267.8 309.0,269.40000000000003" fill="#ffffff"/>
<rect x="306.8" y="263.6" width="1.8" height="1.3" fill="#7a6a5a"/>
<polygon points="358,334 374,331 374,369 358,373" fill="#fbfbfd"/>
<polygon points="375,331 391,329.5 391,373 375,369" fill="#fcfcfe"/>
<line x1="359.5" y1="334.0" x2="359.5" y2="372.5" stroke="#dfe2ea" stroke-width="0.4"/>
<line x1="361.5" y1="333.6" x2="361.5" y2="372.0" stroke="#dfe2ea" stroke-width="0.4"/>
<line x1="363.5" y1="333.3" x2="363.5" y2="371.5" stroke="#dfe2ea" stroke-width="0.4"/>
<line x1="365.5" y1="332.9" x2="365.5" y2="371.0" stroke="#dfe2ea" stroke-width="0.4"/>
<line x1="367.5" y1="332.6" x2="367.5" y2="370.5" stroke="#dfe2ea" stroke-width="0.4"/>
<line x1="369.5" y1="332.2" x2="369.5" y2="370.0" stroke="#dfe2ea" stroke-width="0.4"/>
<line x1="371.5" y1="331.9" x2="371.5" y2="369.5" stroke="#dfe2ea" stroke-width="0.4"/>
<line x1="373.5" y1="331.6" x2="373.5" y2="369.0" stroke="#dfe2ea" stroke-width="0.4"/>
<line x1="376.5" y1="331.0" x2="376.5" y2="369.5" stroke="#dfe2ea" stroke-width="0.4"/>
<line x1="378.5" y1="330.9" x2="378.5" y2="369.9" stroke="#dfe2ea" stroke-width="0.4"/>
<line x1="380.5" y1="330.7" x2="380.5" y2="370.4" stroke="#dfe2ea" stroke-width="0.4"/>
<line x1="382.5" y1="330.6" x2="382.5" y2="370.9" stroke="#dfe2ea" stroke-width="0.4"/>
<line x1="384.5" y1="330.4" x2="384.5" y2="371.3" stroke="#dfe2ea" stroke-width="0.4"/>
<line x1="386.5" y1="330.2" x2="386.5" y2="371.8" stroke="#dfe2ea" stroke-width="0.4"/>
<line x1="388.5" y1="330.1" x2="388.5" y2="372.2" stroke="#dfe2ea" stroke-width="0.4"/>
<line x1="390.5" y1="329.9" x2="390.5" y2="372.6" stroke="#dfe2ea" stroke-width="0.4"/>
<polygon points="337,339.8 347.8,341 347.8,379 337,378" fill="#d7d8dd"/>
<polygon points="347.8,341 358.9,334 358.9,372.5 347.8,379" fill="#e9eaee"/>
<polygon points="337,339.8 348.5,333 358.9,334 347.8,341" fill="#f6f6f8"/>
<rect x="338.7" y="343.2" width="1.6" height="1.6" fill="#ffffff"/>
<rect x="344.0" y="343.7" width="1.6" height="1.6" fill="#ffffff"/>
<rect x="338.7" y="372.2" width="1.6" height="1.6" fill="#ffffff"/>
<rect x="344.0" y="373.0" width="1.6" height="1.6" fill="#ffffff"/>
<line x1="354.6" y1="325.4" x2="393.4" y2="330.6" stroke="#17297f" stroke-width="3.3" stroke-linecap="square"/>
<line x1="354.8" y1="325.4" x2="354.8" y2="333.5" stroke="#17297f" stroke-width="2.6" stroke-linecap="square"/>
<line x1="374" y1="329" x2="374" y2="369" stroke="#17297f" stroke-width="1.8" stroke-linecap="square"/>
<rect x="389.2" y="329.6" width="4.8" height="45.4" fill="#17297f"/>
<rect x="390.2" y="330" width="1.2" height="44.6" fill="#3048a8" opacity="0.7"/>
<circle cx="391.6" cy="338" r="0.7" fill="#e8ecff"/>
<circle cx="391.6" cy="347" r="0.7" fill="#e8ecff"/>
<circle cx="391.6" cy="356" r="0.7" fill="#e8ecff"/>
<circle cx="391.6" cy="365" r="0.7" fill="#e8ecff"/>
<path d="M385.8,369 L385.8,348 Q386,341.6 392,340.8 L400.8,340.6" fill="none" stroke="#f5181c" stroke-width="2.6" stroke-linejoin="round" stroke-linecap="round"/>
<path d="M385.8,369 L385.8,348 Q386,341.6 392,340.8 L400.8,340.6" transform="translate(-0.5,0)" fill="none" stroke="#ff7a7a" stroke-width="0.7" stroke-linejoin="round" stroke-linecap="round" opacity="0.8"/>
<line x1="391" y1="348.4" x2="400.6" y2="348.59999999999997" stroke="#f5181c" stroke-width="2.2"/>
<line x1="390.5" y1="369" x2="400.6" y2="369.2" stroke="#f5181c" stroke-width="3.0"/>
<line x1="387" y1="376.8" x2="400.6" y2="377.0" stroke="#f5181c" stroke-width="2.4"/>
<line x1="393.6" y1="335.2" x2="400.6" y2="335.6" stroke="#f4507c" stroke-width="2.4"/>
<rect x="392.4" y="332" width="1.8" height="3" fill="#f08a1c"/>
<polygon points="333.6,380.4 349,377 401,381.6 388,389.6" fill="#fdfdff"/>
<polygon points="333.6,380.4 388,389.6 401,381.6 401,383.4 388,391.6 333.6,382.2" fill="#e4e4f2"/>
<polyline points="352,380.6 387,386 399,380" fill="none" stroke="#26282c" stroke-width="1.1"/>
<polyline points="336,379.8 352,381.4" fill="none" stroke="#3a3c40" stroke-width="0.9"/>
<rect x="352" y="367.4" width="17" height="12.4" rx="2.6" fill="url(#gTeal)"/>
<rect x="362.6" y="365.4" width="6" height="3" rx="0.8" fill="#2cc4a6"/>
<rect x="368.8" y="371.6" width="8.6" height="8.6" rx="1.2" fill="#fafcfc" stroke="#d6dada" stroke-width="0.4"/>
<rect x="374.8" y="374" width="4" height="4.4" fill="#15a58a"/>
<ellipse cx="382.6" cy="376" rx="5.2" ry="6" fill="url(#gTeal)"/>
<rect x="382.6" y="367.8" width="4.4" height="5.4" rx="0.8" fill="#22b799"/>
<rect x="353" y="379.6" width="34" height="1.8" fill="#0f7d68"/>
<rect x="475.6" y="303.6" width="7" height="8" rx="1" fill="#1f9e86"/>
<rect x="477" y="305" width="3" height="2" fill="#7fe0cc"/>
<line x1="474" y1="296.6" x2="500" y2="297.0" stroke="#ff2a2a" stroke-width="1.5"/>
<line x1="490" y1="306" x2="500" y2="306.4" stroke="#ff2a2a" stroke-width="1.5"/>
<line x1="475" y1="313.8" x2="488" y2="314.2" stroke="#ff2a2a" stroke-width="1.5"/>
<line x1="484" y1="289" x2="484" y2="300" stroke="#ff2a2a" stroke-width="1.6"/>
<path d="M473.3,285.8 L485,287.8 Q488.6,288.6 488.7,292 L488.7,317.5 Q488.9,322 493,322.4 L496.4,322.6" fill="none" stroke="#f2648c" stroke-width="3.6" stroke-linejoin="round" stroke-linecap="round"/>
<path d="M473.3,285.8 L485,287.8 Q488.6,288.6 488.7,292 L488.7,317.5 Q488.9,322 493,322.4 L496.4,322.6" transform="translate(-0.7,-0.5)" fill="none" stroke="#ffb3c6" stroke-width="1.30" stroke-linejoin="round" stroke-linecap="round"/>
<path d="M473.9,290 L497,294 Q500.5,294.8 500.5,298 L500.5,315" fill="none" stroke="#f2648c" stroke-width="3.6" stroke-linejoin="round" stroke-linecap="round"/>
<path d="M473.9,290 L497,294 Q500.5,294.8 500.5,298 L500.5,315" transform="translate(-0.7,-0.5)" fill="none" stroke="#ffb3c6" stroke-width="1.30" stroke-linejoin="round" stroke-linecap="round"/>
<rect x="476.2" y="277.2" width="3.6" height="2.4" rx="0.5" fill="#f0202a"/>
<rect x="482.2" y="278.4" width="3.6" height="2.4" rx="0.5" fill="#f0202a"/>
<rect x="472.09999999999997" y="281.3" width="3.6" height="2.4" rx="0.5" fill="#f0202a"/>
<rect x="482.7" y="281.9" width="3.6" height="2.4" rx="0.5" fill="#f0202a"/>
<rect x="480" y="280.6" width="2.4" height="1.6" fill="#ffffff"/>
<rect x="476" y="280" width="1.6" height="1.6" fill="#f9a040"/>
<rect x="462" y="278.4" width="9.6" height="3.6" rx="1" fill="#15308f"/>
<rect x="464.6" y="278" width="2" height="4.4" fill="#f08a1c"/>
<path d="M472.6,301.4 L479,301.6 Q484,302 484.2,307 L484.2,327" fill="none" stroke="#f87a12" stroke-width="4.2" stroke-linejoin="round" stroke-linecap="round"/>
<path d="M472.6,301.4 L479,301.6 Q484,302 484.2,307 L484.2,327" transform="translate(-0.8,0)" fill="none" stroke="#ffab55" stroke-width="1.3" stroke-linejoin="round" stroke-linecap="round" opacity="0.8"/>
<path d="M474.5,307 L474.5,328 Q474.8,333.6 480.7,334.2" fill="none" stroke="#f87a12" stroke-width="4.2" stroke-linejoin="round" stroke-linecap="round"/>
<path d="M474.5,307 L474.5,328 Q474.8,333.6 480.7,334.2" transform="translate(-0.8,0)" fill="none" stroke="#ffab55" stroke-width="1.3" stroke-linejoin="round" stroke-linecap="round" opacity="0.8"/>
</g>
<g id="box-tank">
<ellipse cx="534.1" cy="321" rx="20" ry="5" fill="#e1e1ec"/>
<rect x="505.6" y="313" width="2.8" height="7.4" rx="1.1" fill="#cfcfd2"/>
<rect x="522.4" y="313" width="2.8" height="7.4" rx="1.1" fill="#cfcfd2"/>
<rect x="533.0" y="313" width="2.8" height="7.4" rx="1.1" fill="#cfcfd2"/>
<path d="M500.0,250 L500.0,307 Q500.0,313.6 508.0,315 Q522.1,318.6 536.2,315 Q544.2,313.6 544.2,307 L544.2,250 Z" fill="url(#gSm)"/>
<path d="M500.5,307 Q522.1,318.5 543.7,307 Q544.2,313.6 536.2,315 Q522.1,318.6 508.0,315 Q500.0,313.6 500.5,307Z" fill="#b4b4b8" opacity="0.6"/>
<ellipse cx="544.0" cy="302.4" rx="2.6" ry="4.6" fill="#dadadd" stroke="#bcbcc0" stroke-width="0.4"/>
<ellipse cx="522.1" cy="250" rx="22.1" ry="6.2" fill="#fdfdfd"/>
<ellipse cx="522.1" cy="250" rx="21.1" ry="5.4" fill="none" stroke="#f67a1c" stroke-width="2.3"/>
<rect x="516.0" y="241.2" width="1.8" height="7.6" fill="#3a2c24"/>
<rect x="514.6999999999999" y="248.2" width="4.4" height="1.8" rx="0.6" fill="#6a6660"/>
<rect x="518.7" y="244.4" width="1.8" height="7.6" fill="#3a2c24"/>
<rect x="517.4" y="251.4" width="4.4" height="1.8" rx="0.6" fill="#6a6660"/>
<rect x="529.1" y="242.6" width="1.8" height="7.6" fill="#3a2c24"/>
<rect x="527.8" y="249.6" width="4.4" height="1.8" rx="0.6" fill="#6a6660"/>
<ellipse cx="522.1" cy="240.6" rx="22.1" ry="5.6" fill="none" stroke="#fccb80" stroke-width="0.7"/>
<ellipse cx="522.1" cy="245.2" rx="22.1" ry="5.6" fill="none" stroke="#fccb80" stroke-width="0.7"/>
<line x1="544.0" y1="241.4" x2="544.0" y2="250.8" stroke="#fccb80" stroke-width="0.6"/>
<line x1="541.0" y1="243.5" x2="541.0" y2="252.9" stroke="#fccb80" stroke-width="0.6"/>
<line x1="535.2" y1="245.1" x2="535.2" y2="254.5" stroke="#fccb80" stroke-width="0.6"/>
<line x1="527.4" y1="246.0" x2="527.4" y2="255.4" stroke="#fccb80" stroke-width="0.6"/>
<line x1="518.8" y1="246.1" x2="518.8" y2="255.5" stroke="#fccb80" stroke-width="0.6"/>
<line x1="510.7" y1="245.4" x2="510.7" y2="254.8" stroke="#fccb80" stroke-width="0.6"/>
<line x1="504.3" y1="243.9" x2="504.3" y2="253.3" stroke="#fccb80" stroke-width="0.6"/>
<line x1="500.6" y1="241.9" x2="500.6" y2="251.3" stroke="#fccb80" stroke-width="0.6"/>
<line x1="500.2" y1="239.8" x2="500.2" y2="249.2" stroke="#fccb80" stroke-width="0.6"/>
<line x1="503.2" y1="237.7" x2="503.2" y2="247.1" stroke="#fccb80" stroke-width="0.6"/>
<line x1="509.0" y1="236.1" x2="509.0" y2="245.5" stroke="#fccb80" stroke-width="0.6"/>
<line x1="516.8" y1="235.2" x2="516.8" y2="244.6" stroke="#fccb80" stroke-width="0.6"/>
<line x1="525.4" y1="235.1" x2="525.4" y2="244.5" stroke="#fccb80" stroke-width="0.6"/>
<line x1="533.5" y1="235.8" x2="533.5" y2="245.2" stroke="#fccb80" stroke-width="0.6"/>
<line x1="539.9" y1="237.3" x2="539.9" y2="246.7" stroke="#fccb80" stroke-width="0.6"/>
<line x1="543.6" y1="239.3" x2="543.6" y2="248.7" stroke="#fccb80" stroke-width="0.6"/>
<g transform="translate(516.4,262) scale(0.1457) translate(-786.8,-10)"><use href="#logo"/></g>
<rect x="517" y="267" width="9" height="1.8" fill="#55555a" opacity="0.8"/>
<polygon points="494.7,331.9 531.3,330.3 535.3,333.8 499.7,336.4" fill="#e4e4f4" opacity="0.9"/>
<polygon points="496.2,329.9 528.3,329.3 530.8,333.1 499.2,334.4" fill="#1426a8"/>
<rect x="512.6" y="321.7" width="16.7" height="10.6" rx="4.5" fill="url(#gBlueCyl)"/>
<ellipse cx="527.5" cy="327.0" rx="2.7" ry="5.3" fill="#0f1f96"/>
<rect x="515.8" y="319.3" width="4.6" height="3" rx="0.8" fill="#1a34cc"/>
<rect x="504.9" y="324.6" width="9.2" height="5.2" fill="#1529b4"/>
<ellipse cx="501.5" cy="325.9" rx="4.8" ry="5.8" fill="#182fc4"/>
<ellipse cx="500.5" cy="324.5" rx="2.4" ry="2.7" fill="#2c4ce6" opacity="0.8"/>
<rect x="499.2" y="316.4" width="4.6" height="9.2" fill="#1c38cc"/>
<rect x="498.3" y="315.4" width="6.4" height="2.2" rx="0.7" fill="#142aa8"/>
<polygon points="478.7,343.0 516,343.3 520,346.8 483.7,347.5" fill="#e4e4f4" opacity="0.9"/>
<polygon points="480.2,341.0 513,342.3 515.5,346.1 483.2,345.5" fill="#1426a8"/>
<rect x="496.7" y="334.7" width="17.3" height="10.6" rx="4.5" fill="url(#gBlueCyl)"/>
<ellipse cx="512.2" cy="340.0" rx="2.7" ry="5.3" fill="#0f1f96"/>
<rect x="499.9" y="332.3" width="4.6" height="3" rx="0.8" fill="#1a34cc"/>
<rect x="489.5" y="337.6" width="8.7" height="5.2" fill="#1529b4"/>
<ellipse cx="485.9" cy="336.8" rx="5.2" ry="6.2" fill="#182fc4"/>
<ellipse cx="484.9" cy="335.4" rx="2.6" ry="2.8" fill="#2c4ce6" opacity="0.8"/>
<rect x="483.6" y="328.2" width="4.6" height="8.2" fill="#1c38cc"/>
<rect x="482.7" y="327.2" width="6.4" height="2.2" rx="0.7" fill="#142aa8"/>
<polygon points="464,356.5 499.4,357.2 503.4,360.7 469,361" fill="#e4e4f4" opacity="0.9"/>
<polygon points="465.5,354.5 496.4,356.2 498.9,360.0 468.5,359" fill="#1426a8"/>
<rect x="480.7" y="347.2" width="16.7" height="12.0" rx="5.1" fill="url(#gBlueCyl)"/>
<ellipse cx="495.6" cy="353.2" rx="2.7" ry="6.0" fill="#0f1f96"/>
<rect x="483.9" y="344.8" width="4.6" height="3" rx="0.8" fill="#1a34cc"/>
<rect x="474.5" y="350.8" width="7.7" height="5.2" fill="#1529b4"/>
<ellipse cx="471.0" cy="350.4" rx="5.0" ry="6.0" fill="#182fc4"/>
<ellipse cx="470.0" cy="349.0" rx="2.5" ry="2.8" fill="#2c4ce6" opacity="0.8"/>
<rect x="468.7" y="341.0" width="4.6" height="9.0" fill="#1c38cc"/>
<rect x="467.8" y="340.0" width="6.4" height="2.2" rx="0.7" fill="#142aa8"/>
<polygon points="450,369.5 484,370.4 488,373.9 455,374" fill="#e4e4f4" opacity="0.9"/>
<polygon points="451.5,367.5 481,369.4 483.5,373.2 454.5,372" fill="#1426a8"/>
<rect x="466" y="360.0" width="16.0" height="12.4" rx="5.2" fill="url(#gBlueCyl)"/>
<ellipse cx="480.2" cy="366.2" rx="2.7" ry="6.2" fill="#0f1f96"/>
<rect x="469.2" y="357.6" width="4.6" height="3" rx="0.8" fill="#1a34cc"/>
<rect x="459.5" y="363.8" width="8.0" height="5.2" fill="#1529b4"/>
<ellipse cx="456.5" cy="363.9" rx="4.5" ry="5.5" fill="#182fc4"/>
<ellipse cx="455.5" cy="362.5" rx="2.2" ry="2.5" fill="#2c4ce6" opacity="0.8"/>
<rect x="454.2" y="354.0" width="4.6" height="9.5" fill="#1c38cc"/>
<rect x="453.3" y="353.0" width="6.4" height="2.2" rx="0.7" fill="#142aa8"/>
<polygon points="455,297 471.7,285.6 471.7,313 455,326" fill="#a3a3a5"/>
<polygon points="455,326 471.7,313 471.7,358.5 455,370" fill="#f7f7f8"/>
<polygon points="455,370 471.7,358.5 471.7,384 455,396" fill="#8f8f92"/>
<rect x="465.3" y="372.6" width="0.9" height="3.2" fill="#d8d8da"/>
<polygon points="400.8,292 455,297 455,326 400.8,318.3" fill="#c6c6c8"/>
<polygon points="400.8,318.3 455,326 455,370 400.8,364" fill="#fdfdfd"/>
<polygon points="400.8,364 455,370 455,396 400.8,389" fill="#bfbfc1"/>
<polygon points="401,292.4 420.5,279.8 472.4,285.4 455.2,297.2" fill="#dedee0"/>
<clipPath id="cpTop"><polygon points="406.5,291.6 421.6,281.6 467.6,286.6 453.6,295.8"/></clipPath>
<polygon points="406.5,291.6 421.6,281.6 467.6,286.6 453.6,295.8" fill="#f1f1f4"/>
<g clip-path="url(#cpTop)">
<line x1="405" y1="280.4" x2="470" y2="287.8" stroke="#fb5283" stroke-width="4.2" opacity="0.85"/>
<line x1="405" y1="279.4" x2="470" y2="286.8" stroke="#ff9ab8" stroke-width="1.6" opacity="0.9"/>
<line x1="412" y1="286.8" x2="458" y2="291.6" stroke="#fba6bf" stroke-width="1.8" opacity="0.8"/>
<polyline points="418,291 430,289.4 448,291.4 452,293.4" fill="none" stroke="#f0b070" stroke-width="0.7"/>
<line x1="420.5" y1="280" x2="420.5" y2="292.0" stroke="#c9cbd2" stroke-width="0.7"/>
<line x1="421.3" y1="280" x2="421.3" y2="292.0" stroke="#ffffff" stroke-width="0.7"/>
<line x1="423.5" y1="280" x2="423.5" y2="292.4" stroke="#c9cbd2" stroke-width="0.7"/>
<line x1="424.3" y1="280" x2="424.3" y2="292.4" stroke="#ffffff" stroke-width="0.7"/>
<line x1="427.5" y1="280" x2="427.5" y2="292.8" stroke="#c9cbd2" stroke-width="0.7"/>
<line x1="428.3" y1="280" x2="428.3" y2="292.8" stroke="#ffffff" stroke-width="0.7"/>
<line x1="441" y1="280" x2="441" y2="293.2" stroke="#c9cbd2" stroke-width="0.7"/>
<line x1="441.8" y1="280" x2="441.8" y2="293.2" stroke="#ffffff" stroke-width="0.7"/>
<line x1="447" y1="280" x2="447" y2="293.6" stroke="#c9cbd2" stroke-width="0.7"/>
<line x1="447.8" y1="280" x2="447.8" y2="293.6" stroke="#ffffff" stroke-width="0.7"/>
<rect x="435" y="281" width="2.4" height="12" fill="#17297f"/>
<rect x="452.6" y="283.4" width="3" height="3.4" rx="0.8" fill="#f4a050"/>
<circle cx="453.6" cy="290" r="1.8" fill="#fb7a9c"/>
</g>
<polyline points="401,292.4 455.2,297.2 472.4,285.4" fill="none" stroke="#efeff1" stroke-width="0.9"/>
<g transform="translate(421.2,302) scale(0.1498) translate(-786.8,-10)"><use href="#logo"/></g>
<rect x="421.6" y="306.9" width="9.4" height="2.2" fill="#77777c" opacity="0.7"/>
</g>
</svg><!--/ILLUS-->

<!-- right column -->
<svg class="abs" style="left:570px;top:75px;z-index:2" width="370" height="35" viewBox="0 0 370 35"><g fill="none" stroke-dasharray="4.4 2.58"><line x1="1.2" y1="1.4" x2="368" y2="1.4" stroke="#5b9bd5" stroke-width="1.3"/><line x1="1.2" y1="33.2" x2="368" y2="33.2" stroke="#5b9bd5" stroke-width="1.4"/><line x1="1.2" y1="2" x2="1.2" y2="33" stroke="#86b2e2" stroke-width="1.8"/><line x1="368" y1="2" x2="368" y2="33" stroke="#86b2e2" stroke-width="1.8"/></g></svg>
<div class="abs" style="left:577px;top:82px;font-size:18.4px;letter-spacing:-0.4px;line-height:24px;color:#1a1a1a;white-space:nowrap;">电热储能系统以储热介质分类：</div>

<div class="abs bar" style="top:108.3px;height:43.9px;"></div>
<div class="abs bar" style="top:235.3px;height:44.4px;"></div>
<div class="abs bar" style="top:401.25px;height:43.35px;"></div>

<div class="abs h" style="left:599.5px;top:122px;">电极锅炉水蓄热系统</div>
<div class="abs h" style="left:604px;top:251px;">电极加热熔盐储热系统</div>
<div class="abs h" style="left:604.5px;top:411.1px;">固体储热系统</div>

<div class="abs t" style="top:157px;left:582px;"><span class="r">注：<span class="b">电极锅炉直供蒸汽压力最高可达<span class="l">10MPa</span>以上，通过</span></span></div>
<div class="abs t" style="top:187px;"><span class="r b">水储热系统输出蒸汽压力<span class="l">1.6MPa</span>以下与熔盐储热系统相</span></div>
<div class="abs t" style="top:217px;"><span class="r b">比具有明显优势。</span>适用场景集中采暖、低参数工业蒸汽。</div>

<div class="abs t" style="top:286px;"><span class="r">注：<span class="b">适和水储热无法解决的场景<span style="padding:0 1.5px">-</span>需要储热且需输出高参</span></span></div>
<div class="abs t" style="top:316px;"><span class="r b">数蒸汽的场景</span>（杀鸡莫用宰牛刀）。适用于光热发电、熔</div>
<div class="abs t" style="top:347px;">盐储能电站、火电调峰（高参数蒸汽回到主汽系统中）等</div>
<div class="abs t" style="top:377px;">需要输出高参数蒸汽用于再发电等场景。</div>

<div class="abs t k" style="top:446px;">注：<span class="b">需做技术经济比较，在需要储热且加热介质为气体</span></div>
<div class="abs t k b" style="top:477px;">（空气或蒸汽）的场景下具备一定优势。</div>

<div class="abs" style="left:925.2px;top:491.6px;width:16px;text-align:center;font-size:19.6px;font-weight:bold;color:#1b3265;line-height:24px;">1</div>


<!-- bullets, brackets, logo -->
<svg class="abs" style="left:0;top:0" width="960" height="540" viewBox="0 0 960 540">
<g transform="translate(0,0.0)"><polygon points="583.6,132.6 590.9,132.4 580,138.8" fill="#000"/><polygon points="579.9,126.1 590.9,132.4 583.6,132.6" fill="none" stroke="#1a1a1a" stroke-width="0.8" stroke-linejoin="miter"/></g><g transform="translate(0,129.5)"><polygon points="583.6,132.6 590.9,132.4 580,138.8" fill="#000"/><polygon points="579.9,126.1 590.9,132.4 583.6,132.6" fill="none" stroke="#1a1a1a" stroke-width="0.8" stroke-linejoin="miter"/></g><g transform="translate(0,289.2)"><polygon points="583.6,132.6 590.9,132.4 580,138.8" fill="#000"/><polygon points="579.9,126.1 590.9,132.4 583.6,132.6" fill="none" stroke="#1a1a1a" stroke-width="0.8" stroke-linejoin="miter"/></g>
<g fill="none" stroke="#3b6ea5" stroke-width="4.6" stroke-linecap="round" stroke-linejoin="round">
<polyline points="60.5,143.3 60.5,133.8 69,133.8"/>
<polyline points="51.6,391.7 51.6,400.4 60.1,400.4"/>
<polyline points="544.3,133.7 552.7,133.7 552.7,143.5"/>
<polyline points="552.7,391.2 552.7,400.8 544.3,400.8"/>
</g>
<g id="logo"><title>CEEC</title>
<g fill="#0068b7">
<polygon points="792.6,10 803.25,10 803.25,16.7 786.8,16.7 786.8,15.8"/>
<polygon points="786.8,17.8 792.9,17.8 792.9,27.8 787.3,33.9 786.8,33.9"/>
<polygon points="793.4,28.5 803.25,28.5 803.25,34.7 788.3,34.7 788.0,34.4"/>
<polygon points="810.8,10 821.9,10 821.9,16.7 805,16.7 805,15.8"/>
<polygon points="805,17.8 811.1,17.8 811.1,27.8 805.5,33.9 805,33.9"/>
<polygon points="811.6,28.5 821.9,28.5 821.9,34.7 806.5,34.7 806.2,34.4"/>
<rect x="814.2" y="19.9" width="7.7" height="5.4"/>
<polygon points="849,10 860,10 860,16.7 843.2,16.7 843.2,15.8"/>
<polygon points="843.2,17.8 849.3,17.8 849.3,27.8 843.7,33.9 843.2,33.9"/>
<polygon points="849.8,28.5 860,28.5 860,34.7 844.7,34.7 844.4,34.4"/>
</g>
<g fill="#ff0000">
<polygon points="825,10 840,10 834.5,16.4 825,16.4"/>
<polygon points="841.9,11 841.9,27 835.5,27 835.5,17"/>
<rect x="825" y="19.9" width="7.1" height="5.4"/>
<polygon points="825,28.5 841.3,28.5 835.7,34.7 825,34.7"/>
</g>
</g>
</svg>
<div class="abs" style="left:867px;top:6.6px;font-size:16.6px;line-height:24px;font-weight:bold;color:#4a4747;white-space:nowrap;letter-spacing:0.4px;transform:scaleY(0.87);transform-origin:0 50%;">中国能建</div>
<div class="abs" style="left:868px;top:25.8px;font-size:8.3px;line-height:12px;font-weight:bold;color:#4a4747;white-space:nowrap;letter-spacing:0.36px;">ENERGY CHINA</div>

<!-- footer -->
<svg class="abs" style="left:0;top:531px" width="960" height="9" viewBox="0 531 960 9"><rect x="0" y="531.1" width="239.3" height="9" fill="#c00000"/><rect x="240.7" y="531.1" width="720" height="9" fill="#4472c4"/><line x1="228" y1="530.6" x2="237.8" y2="540.5" stroke="#fff" stroke-width="1"/><line x1="252" y1="530.6" x2="241.8" y2="540.5" stroke="#fff" stroke-width="1"/></svg>

</body>
</html>
